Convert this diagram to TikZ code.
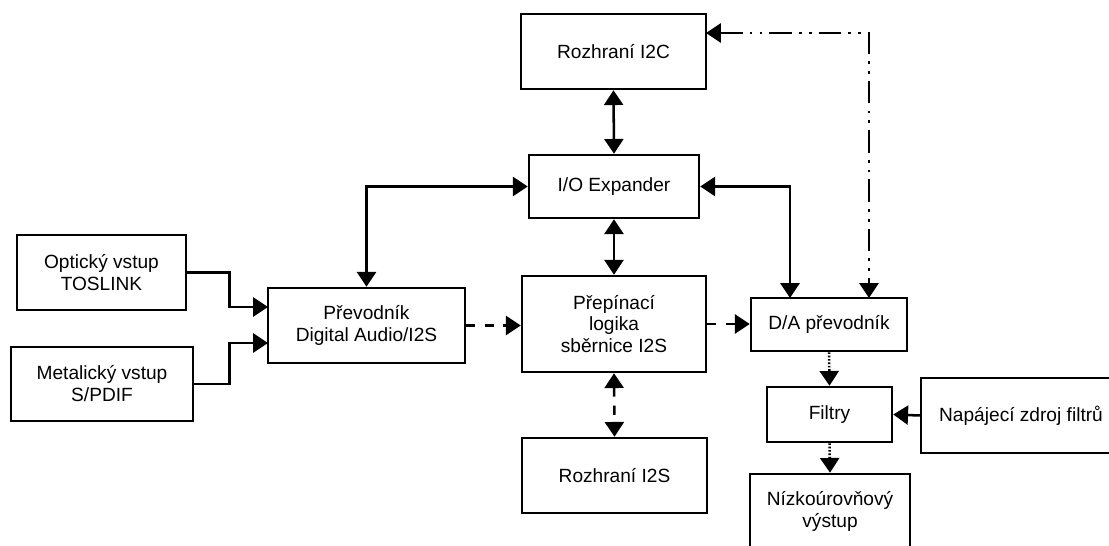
\documentclass[tikz,border=0pt]{standalone}
\usepackage{fontspec}
\setmainfont{Liberation Sans}
\usetikzlibrary{arrows.meta}

\tikzset{
  block/.style={draw, line width=1.8pt, align=center, inner sep=0pt,
    font=\fontsize{13.6}{15.6}\selectfont},
  dims/.style 2 args={minimum width=#1*0.025cm, minimum height=#2*0.025cm},
  dashline/.style={dash pattern=on 6.5pt off 6.5pt},
  dotline/.style={dash pattern=on 1.2pt off 1.2pt},
  dashdotdot/.style={dash pattern=on 16pt off 5pt on 2pt off 5pt on 2pt off 5pt},
}

\begin{document}
\begin{tikzpicture}[x=0.025cm,y=-0.025cm,line width=1.8pt,
  >={Triangle[length=10.5pt,width=13.5pt]}]
\useasboundingbox (0,0) rectangle (1109,545);

% bloky
\node[block,dims={185}{75}] (i2c) at (613.5,51.5) {Rozhraní I2C};
\node[block,dims={170}{63}] (io) at (614,186.5) {I/O Expander};
\node[block,dims={169}{75}] (opt) at (101.5,272.5) {Optický vstup\\TOSLINK};
\node[block,dims={182}{74}] (met) at (102,384) {Metalický vstup\\S/PDIF};
\node[block,dims={197}{75}] (prev) at (366.5,325.5) {Převodník\\Digital Audio/I2S};
\node[block,dims={184}{96}] (prep) at (614,324) {Přepínací\\logika\\sběrnice I2S};
\node[block,dims={185}{75}] (i2s) at (614.5,475.5) {Rozhraní I2S};
\node[block,dims={156}{53}] (da) at (829,324.5) {D/A převodník};
\node[block,dims={125}{55}] (filt) at (829.5,414.5) {Filtry};
\node[block,dims={200}{75}] (nap) at (1021,415.5) {Napájecí zdroj filtrů};
\node[block,dims={160}{75}] (niz) at (830,511.5) {Nízkoúrovňový\\výstup};

\coordinate (i2cR) at (706,33);
\coordinate (daL) at (790,298);
\coordinate (daR) at (869,298);
\coordinate (prevA) at (268,307);
\coordinate (prevB) at (268,343);

% spoje
\draw[<->] (i2c.south) -- (io.north);
\draw[<->] (io.south) -- (prep.north);
\draw[<->,dashline] (prep.south) -- (i2s.north);
\draw[<->] (io.west) -| (prev.north);
\draw[<->] (io.east) -| (daL);
\draw[<->,dashdotdot] (i2cR) -| (daR);

\draw[->] (opt.east) -- ++(42,0) |- (prevA);
\draw[->] (met.east) -- ++(35,0) |- (prevB);

\draw[->,dashline] (prev.east) -- (prev.east -| prep.west);
\draw[->,dashline] (prep.east) -- (prep.east -| da.west);

\draw[->,dotline] (da.south) -- (filt.north);
\draw[->,dotline] (filt.south) -- (niz.north);
\draw[->] (nap.west) -- (filt.east);
\end{tikzpicture}
\end{document}
